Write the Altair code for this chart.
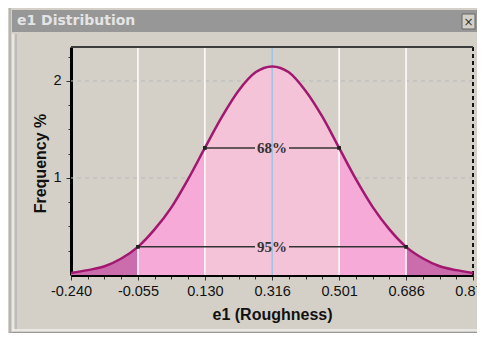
import json
import altair as alt
import pandas as pd

# ---------------- data ----------------
x_vals = [-0.240, -0.194, -0.147, -0.101, -0.055, -0.009, 0.038, 0.084, 0.130,
          0.177, 0.223, 0.270, 0.316, 0.362, 0.408, 0.455, 0.501, 0.547, 0.594,
          0.640, 0.686, 0.733, 0.779, 0.825, 0.871]
freq = [0.02, 0.05, 0.09, 0.17, 0.29, 0.47, 0.70, 0.99, 1.31,
        1.63, 1.90, 2.09, 2.15, 2.09, 1.90, 1.63, 1.31, 0.99, 0.70,
        0.47, 0.29, 0.17, 0.09, 0.05, 0.02]

zone_edges = [-0.240, -0.055, 0.130, 0.501, 0.686, 0.871]
zone_kind = ["tail", "band", "center", "band", "tail"]

sd_lines = [-0.055, 0.130, 0.501, 0.686]
mean_line = [0.316]
edge_line = [0.871]

arrow_labels = ["68%", "95%"]
arrow_lo = [0.130, -0.055]
arrow_hi = [0.501, 0.686]
arrow_y = [1.31, 0.29]

x_major = [-0.240, -0.055, 0.130, 0.316, 0.501, 0.686, 0.871]
x_major_labels = ["-0.240", "-0.055", "0.130", "0.316", "0.501", "0.686", "0.871"]
y_ticks = [0.25, 0.5, 0.75, 1.0, 1.25, 1.5, 1.75, 2.0, 2.25]
y_major = [1.0, 2.0]
y_major_labels = ["1", "2"]
grid_y = [1.0, 2.0]

# ---------------- build tables ----------------
curve = pd.DataFrame({"x": x_vals, "f": freq})

rows = []
for i, kind in enumerate(zone_kind):
    lo, hi = zone_edges[i], zone_edges[i + 1]
    for xv, fv in zip(x_vals, freq):
        if lo - 1e-9 <= xv <= hi + 1e-9:
            rows.append({"x": xv, "f": fv, "seg": i, "zone": kind})
zones = pd.DataFrame(rows)

GAP = 0.047
arrows = pd.DataFrame({"label": arrow_labels, "lo": arrow_lo, "hi": arrow_hi, "y": arrow_y})
arrows["mid"] = (arrows["lo"] + arrows["hi"]) / 2
arrows["glo"] = arrows["mid"] - GAP
arrows["ghi"] = arrows["mid"] + GAP
ends = pd.DataFrame({"x": arrow_lo + arrow_hi, "y": arrow_y + arrow_y})

x_ticks = []
for a, b in zip(x_major[:-1], x_major[1:]):
    for k in range(4):
        x_ticks.append(round(a + (b - a) * k / 4, 5))
x_ticks.append(x_major[-1])

# ---------------- scales & axes ----------------
FONT = "Liberation Sans"
xscale = alt.Scale(domain=[-0.240, 0.871], nice=False, zero=False)
yscale = alt.Scale(domain=[0, 2.35], nice=False, zero=True)

x_label_expr = (f"indexof({json.dumps(x_major)}, datum.value) >= 0 ? "
                f"{json.dumps(x_major_labels)}[indexof({json.dumps(x_major)}, datum.value)] : ''")
y_label_expr = (f"indexof({json.dumps(y_major)}, datum.value) >= 0 ? "
                f"{json.dumps(y_major_labels)}[indexof({json.dumps(y_major)}, datum.value)] : ''")

xaxis = alt.Axis(values=x_ticks, labelExpr=x_label_expr, title="e1 (Roughness)",
                 titleFont=FONT, titleFontSize=16, titleFontWeight="bold", titleColor="#111",
                 titleY=39, titleBaseline="middle",
                 labelFont=FONT, labelFontSize=14.5, labelColor="#111", labelPadding=4,
                 labelOverlap=False, labelFlush=False, labelBound=False,
                 tickColor="#333", tickWidth=1,
                 tickSize={"condition": {"test": f"indexof({json.dumps(x_major)}, datum.value) >= 0",
                                         "value": 5}, "value": 4},
                 domainColor="#000", domainWidth=3, grid=False)
yaxis = alt.Axis(values=y_ticks, labelExpr=y_label_expr, title="Frequency %",
                 titleFont=FONT, titleFontSize=16, titleFontWeight="bold", titleColor="#111",
                 titleX=-31, titleY=116, titleBaseline="middle", titleAlign="center", titleAngle=-90,
                 labelFont=FONT, labelFontSize=14.5, labelColor="#111", labelPadding=5,
                 tickColor="#333", tickWidth=1,
                 tickSize={"condition": {"test": f"indexof({json.dumps(y_major)}, datum.value) >= 0",
                                         "value": 5}, "value": 3},
                 domainColor="#000", domainWidth=3, grid=False)


def X(field):
    return alt.X(field, type="quantitative", scale=xscale, axis=xaxis)


def Y(field):
    return alt.Y(field, type="quantitative", scale=yscale, axis=yaxis, stack=None)


one = alt.Data(values=[{"k": 1}])

# ---------------- window decoration ----------------
titlebar = alt.Chart(one).mark_rect(color="#979797").encode(
    x=alt.value(-59), x2=alt.value(406), y=alt.value(-37), y2=alt.value(-15))
titletext = alt.Chart(one).mark_text(align="left", baseline="middle", font="DejaVu Sans",
                                     fontSize=14, fontWeight="bold", color="#e4e4e4").encode(
    x=alt.value(-54), y=alt.value(-26), text=alt.value("e1 Distribution"))
closebtn = alt.Chart(one).mark_rect(color="#d4d0c8", stroke="#666", strokeWidth=1).encode(
    x=alt.value(391), x2=alt.value(404), y=alt.value(-33), y2=alt.value(-18))
closetext = alt.Chart(one).mark_text(align="center", baseline="middle", font="DejaVu Sans",
                                     fontSize=12, color="#333").encode(
    x=alt.value(397.5), y=alt.value(-25.5), text=alt.value("×"))
frame_l1 = alt.Chart(one).mark_rule(color="#9a9a9a", strokeWidth=1).encode(
    x=alt.value(-61), y=alt.value(-39), y2=alt.value(286))
frame_l2 = alt.Chart(one).mark_rule(color="#ffffff", strokeWidth=1).encode(
    x=alt.value(-58), y=alt.value(-13), y2=alt.value(284))
frame_l3 = alt.Chart(one).mark_rule(color="#a8a8a8", strokeWidth=1).encode(
    x=alt.value(-55), y=alt.value(-13), y2=alt.value(282))
frame_b1 = alt.Chart(one).mark_rule(color="#ffffff", strokeWidth=1).encode(
    y=alt.value(283), x=alt.value(-58), x2=alt.value(406))
frame_b2 = alt.Chart(one).mark_rule(color="#9a9a9a", strokeWidth=1).encode(
    y=alt.value(285.5), x=alt.value(-61), x2=alt.value(406))

# ---------------- plot layers ----------------
grid = alt.Chart(pd.DataFrame({"g": grid_y})).mark_rule(
    color="#b9b9b9", strokeDash=[4, 4], strokeWidth=1).encode(y=Y("g"))

areas = alt.Chart(zones).mark_area(interpolate="monotone", opacity=1).encode(
    x=X("x"), y=Y("f"), detail="seg:N",
    color=alt.Color("zone:N", legend=None,
                    scale=alt.Scale(domain=["tail", "band", "center"],
                                    range=["#cb6dad", "#f5aad8", "#f4c3d7"])))

white_lines = alt.Chart(pd.DataFrame({"v": sd_lines})).mark_rule(
    color="#ffffff", strokeWidth=1.5).encode(x=X("v"))
blue_line = alt.Chart(pd.DataFrame({"v": mean_line})).mark_rule(
    color="#9dc3e6", strokeWidth=1.5).encode(x=X("v"))
dash_line = alt.Chart(pd.DataFrame({"v": edge_line})).mark_rule(
    color="#111", strokeWidth=2, strokeDash=[4, 3]).encode(x=X("v"))
top_border = alt.Chart(one).mark_rule(color="#3c3c3c", strokeWidth=2).encode(
    y=alt.value(0), x=alt.value(0), x2=alt.value(402))

line = alt.Chart(curve).mark_line(interpolate="monotone", color="#a2176f",
                                  strokeWidth=2.5).encode(x=X("x"), y=Y("f"))

seg_l = alt.Chart(arrows).mark_rule(color="#333", strokeWidth=1.5).encode(
    x=X("lo"), x2="glo", y=Y("y"))
seg_r = alt.Chart(arrows).mark_rule(color="#333", strokeWidth=1.5).encode(
    x=X("ghi"), x2="hi", y=Y("y"))
end_pts = alt.Chart(ends).mark_point(shape="square", size=14, filled=True,
                                     color="#222", opacity=1).encode(x=X("x"), y=Y("y"))
labels = alt.Chart(arrows).mark_text(font="Liberation Serif", fontSize=15, fontWeight="bold",
                                     color="#333", baseline="middle").encode(
    x=X("mid"), y=Y("y"), text="label:N")

chart = alt.layer(
    titlebar, titletext, closebtn, closetext, frame_l1, frame_l2, frame_l3, frame_b1, frame_b2,
    grid, areas, white_lines, blue_line, dash_line, top_border, line,
    seg_l, seg_r, end_pts, labels,
).properties(
    width=402, height=228,
    autosize=alt.AutoSizeParams(type="none"),
    padding={"left": 63, "top": 39, "right": 4, "bottom": 58},
    background="#d4d0c8",
).configure_view(stroke=None)

chart.save("out.html", embed_options={"renderer": "svg", "actions": False})
